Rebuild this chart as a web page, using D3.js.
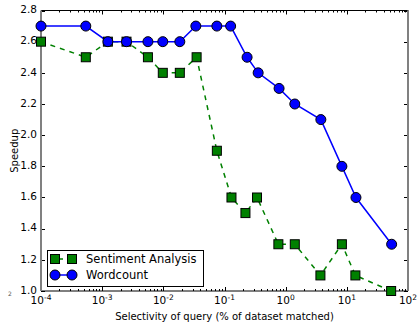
<!DOCTYPE html>
<html>
<head>
<meta charset="utf-8">
<script src="https://cdn.jsdelivr.net/npm/d3@7"></script>
<style>
  body { margin: 0; background: #fff; }
  svg { font-family: "DejaVu Sans", sans-serif; }
</style>
</head>
<body>
<svg class="chart" width="417" height="325"></svg>
<script>
// selectivity (% of dataset matched)
var sentimentX = [1e-4, 5.4e-4, 1.24e-3, 2.5e-3, 5.6e-3, 9.8e-3, 1.86e-2, 3.5e-2, 0.075, 0.13, 0.22, 0.34, 0.76, 1.41, 3.7, 8.3, 13.8, 53];
var sentimentY = [2.6, 2.5, 2.6, 2.6, 2.5, 2.4, 2.4, 2.5, 1.9, 1.6, 1.5, 1.6, 1.3, 1.3, 1.1, 1.3, 1.1, 1.0];
var wordcountX = [1e-4, 5.4e-4, 1.24e-3, 2.5e-3, 5.6e-3, 9.8e-3, 1.86e-2, 3.4e-2, 0.075, 0.126, 0.234, 0.355, 0.78, 1.41, 3.76, 8.3, 14.1, 54];
var wordcountY = [2.7, 2.7, 2.6, 2.6, 2.6, 2.6, 2.6, 2.7, 2.7, 2.7, 2.5, 2.4, 2.3, 2.2, 2.1, 1.8, 1.6, 1.3];
var yTicks = [1.0, 1.2, 1.4, 1.6, 1.8, 2.0, 2.2, 2.4, 2.6, 2.8];
var xExponents = [-4, -3, -2, -1, 0, 1, 2];
var seriesNames = ["Sentiment Analysis", "Wordcount"];

var pLeft = 41, pRight = 408, pTop = 10.5, pBottom = 291;

var svg = d3.select('.chart');

var x = d3.scaleLog().domain([1e-4, 1e2]).range([pLeft, pRight]);
var y = d3.scaleLinear().domain([1.0, 2.8]).range([pBottom, pTop]);

// minor ticks for log axis
var minor = [];
xExponents.slice(0, -1).forEach(function(e) {
    for (var k = 2; k <= 9; k++) minor.push(k * Math.pow(10, e));
});

var ticks = svg.append('g').attr('stroke', '#000').attr('stroke-width', 1);
xExponents.forEach(function(e) {
    var px = Math.round(x(Math.pow(10, e))) + 0.5;
    ticks.append('line').attr('x1', px).attr('x2', px).attr('y1', pBottom).attr('y2', pBottom - 4);
    ticks.append('line').attr('x1', px).attr('x2', px).attr('y1', pTop).attr('y2', pTop + 4);
});
minor.forEach(function(v) {
    var px = Math.round(x(v)) + 0.5;
    ticks.append('line').attr('x1', px).attr('x2', px).attr('y1', pBottom).attr('y2', pBottom - 2);
    ticks.append('line').attr('x1', px).attr('x2', px).attr('y1', pTop).attr('y2', pTop + 2);
});
yTicks.forEach(function(v) {
    var py = Math.round(y(v)) + 0.5;
    ticks.append('line').attr('x1', pLeft).attr('x2', pLeft + 4).attr('y1', py).attr('y2', py);
    ticks.append('line').attr('x1', pRight).attr('x2', pRight - 4).attr('y1', py).attr('y2', py);
});

// spines
svg.append('line').attr('x1', pLeft).attr('x2', pRight).attr('y1', pTop).attr('y2', pTop)
    .attr('stroke', '#000').attr('stroke-width', 1);
svg.append('line').attr('x1', pLeft).attr('x2', pRight).attr('y1', pBottom).attr('y2', pBottom)
    .attr('stroke', '#000').attr('stroke-width', 1);
svg.append('line').attr('x1', pLeft).attr('x2', pLeft).attr('y1', pTop).attr('y2', pBottom)
    .attr('stroke', '#808080').attr('stroke-width', 2);
svg.append('line').attr('x1', pRight).attr('x2', pRight).attr('y1', pTop).attr('y2', pBottom)
    .attr('stroke', '#808080').attr('stroke-width', 2);

// tick labels
svg.append('g').selectAll('text').data(yTicks).enter().append('text')
    .attr('x', pLeft - 4).attr('y', function(d) { return y(d) - 1; })
    .attr('dy', '0.35em').attr('text-anchor', 'end')
    .attr('font-size', 10.5).attr('fill', '#000')
    .text(function(d) { return d.toFixed(1); });

var xl = svg.append('g').selectAll('text').data(xExponents).enter().append('text')
    .attr('x', function(d) { return x(Math.pow(10, d)); }).attr('y', pBottom + 13)
    .attr('text-anchor', 'middle').attr('font-size', 10.5).attr('fill', '#000');
xl.append('tspan').text('10');
xl.append('tspan').attr('dy', -4).attr('font-size', 7.5).text(function(d) { return d; });

svg.append('text').attr('x', 8).attr('y', 296).attr('font-size', 6).attr('fill', '#555').text('2');

// axis labels
svg.append('text').attr('x', (pLeft + pRight) / 2).attr('y', 320)
    .attr('text-anchor', 'middle').attr('font-size', 10)
    .text('Selectivity of query (% of dataset matched)');
svg.append('text').attr('transform', 'translate(18,' + (pTop + pBottom) / 2 + ') rotate(-90)')
    .attr('text-anchor', 'middle').attr('font-size', 10)
    .text('Speedup');

// series
var lineGen = d3.line().x(function(d) { return x(d[0]); }).y(function(d) { return y(d[1]); });
var sentiment = d3.zip(sentimentX, sentimentY);
var wordcount = d3.zip(wordcountX, wordcountY);

var plot = svg.append('g');
plot.append('path').datum(sentiment).attr('d', lineGen)
    .attr('fill', 'none').attr('stroke', '#008000').attr('stroke-width', 1.5)
    .attr('stroke-dasharray', '5,5');
plot.append('path').datum(wordcount).attr('d', lineGen)
    .attr('fill', 'none').attr('stroke', '#0000ff').attr('stroke-width', 1.5);

var sq = 9;
plot.selectAll('.sq').data(sentiment).enter().append('rect').attr('class', 'sq')
    .attr('x', function(d) { return x(d[0]) - sq / 2; })
    .attr('y', function(d) { return y(d[1]) - sq / 2; })
    .attr('width', sq).attr('height', sq)
    .attr('fill', '#008000').attr('stroke', '#000').attr('stroke-width', 1);
plot.selectAll('.dot').data(wordcount).enter().append('circle').attr('class', 'dot')
    .attr('cx', function(d) { return x(d[0]); })
    .attr('cy', function(d) { return y(d[1]); })
    .attr('r', 5)
    .attr('fill', '#0000ff').attr('stroke', '#000').attr('stroke-width', 1);

// legend
var lg = svg.append('g');
lg.append('rect').attr('x', 47.5).attr('y', 250.5).attr('width', 156).attr('height', 36)
    .attr('fill', '#fff').attr('stroke', '#000').attr('stroke-width', 1);
var rowY = [259, 275];
lg.append('line').attr('x1', 55).attr('x2', 72).attr('y1', rowY[0]).attr('y2', rowY[0])
    .attr('stroke', '#008000').attr('stroke-width', 1.5).attr('stroke-dasharray', '5,5')
    .attr('stroke-dashoffset', -3);
[55, 72].forEach(function(cx) {
    lg.append('rect').attr('x', cx - sq / 2).attr('y', rowY[0] - sq / 2).attr('width', sq).attr('height', sq)
        .attr('fill', '#008000').attr('stroke', '#000');
});
lg.append('line').attr('x1', 55).attr('x2', 72).attr('y1', rowY[1]).attr('y2', rowY[1])
    .attr('stroke', '#0000ff').attr('stroke-width', 1.5);
[55, 72].forEach(function(cx) {
    lg.append('circle').attr('cx', cx).attr('cy', rowY[1]).attr('r', 5)
        .attr('fill', '#0000ff').attr('stroke', '#000');
});
lg.selectAll('.lt').data(seriesNames).enter().append('text').attr('class', 'lt')
    .attr('x', 86).attr('y', function(d, i) { return rowY[i]; }).attr('dy', '0.35em')
    .attr('font-size', 11.5).text(function(d) { return d; });
</script>
</body>
</html>
